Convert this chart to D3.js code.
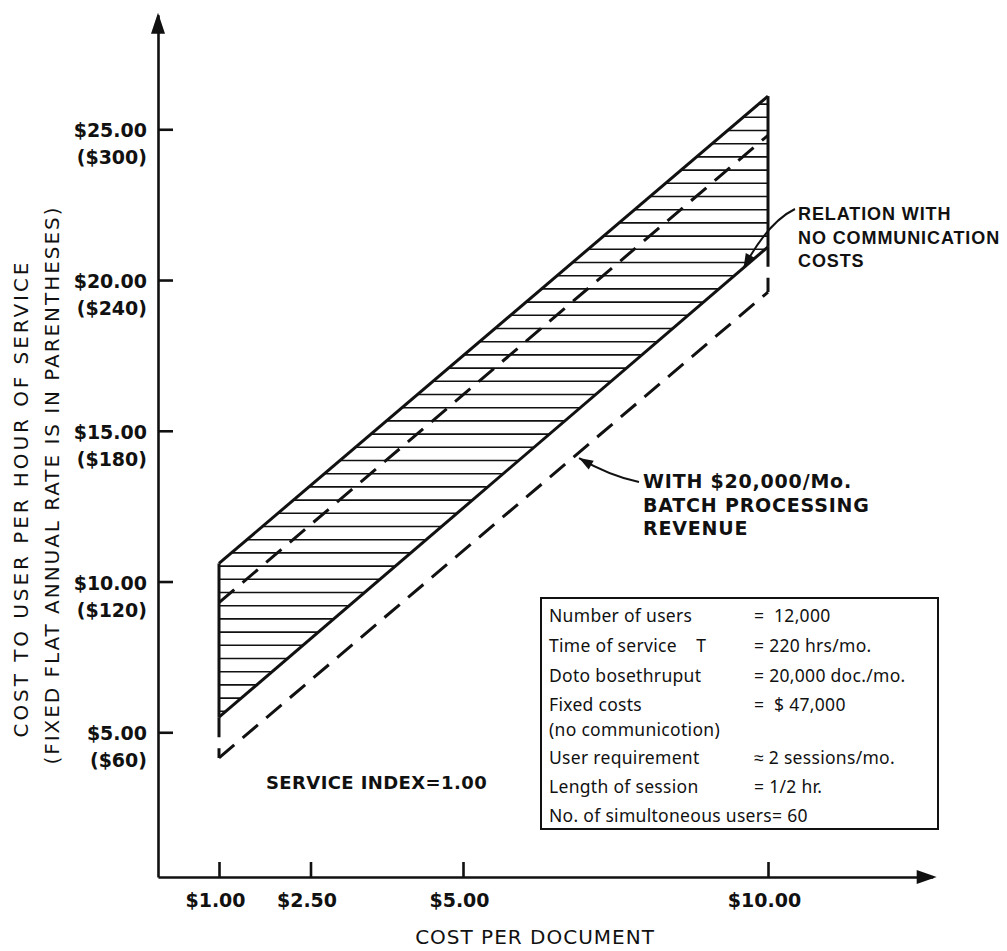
<!DOCTYPE html>
<html>
<head>
<meta charset="utf-8">
<script src="https://cdn.jsdelivr.net/npm/d3@7/dist/d3.min.js"></script>
<style>
  html, body { margin: 0; padding: 0; background: #fff; }
  svg { display: block; }
</style>
</head>
<body>
<svg id="chart" width="1007" height="951"></svg>
<script>
// ---------------- DATA ----------------
const xEnds = [1, 10];                     // cost per document at the two ends
const upperSolid = [10.6, 26.1];           // upper bound of shaded band
const middleDashed = [9.3, 24.8];          // dashed line inside band
const lowerSolid = [5.5, 21.1];            // relation with no communication costs
const lowerDashed = [4.15, 19.6];          // with $20,000/Mo batch processing revenue

const xTickValues = [1, 2.5, 5, 10];
const xTickLabels = ["$1.00", "$2.50", "$5.00", "$10.00"];
const yTickValues = [5, 10, 15, 20, 25];
const yTickLabels = ["$5.00", "$10.00", "$15.00", "$20.00", "$25.00"];
const yTickAnnual = ["($60)", "($120)", "($180)", "($240)", "($300)"];

const tableLabels = ["Number of users", "Time of service    T", "Doto bosethruput", "Fixed costs",
  "(no communicotion)", "User requirement", "Length of session", "No. of simultoneous users= 60"];
const tableValues = ["=  12,000", "= 220 hrs/mo.", "= 20,000 doc./mo.", "=  $ 47,000",
  "", "\u2248 2 sessions/mo.", "= 1/2 hr.", ""];

// ---------------- LAYOUT ----------------
const svg = d3.select("#chart");
const x = d3.scaleLinear().domain([0, 12.7]).range([158, 158 + 12.7 * 61]);
const y = d3.scaleLinear().domain([0.2, 28.8]).range([877, 14.7]);

const boldFont = "'DejaVu Sans', sans-serif";
const annFont = "'Liberation Sans', Arial, sans-serif";
const ink = "#111";

function at(arr, xv) {
  const t = (xv - xEnds[0]) / (xEnds[1] - xEnds[0]);
  return arr[0] + t * (arr[1] - arr[0]);
}
const pts = arr => xEnds.map((xv, i) => [xv, arr[i]]);
const line = d3.line().x(d => x(d[0])).y(d => y(d[1]));

// ---------- Hatching ----------
const bandPoly = [...pts(upperSolid), ...pts(lowerSolid).reverse()];
svg.append("clipPath").attr("id", "band")
  .append("path").attr("d", line(bandPoly) + "Z");

const hTop = y(upperSolid[1]), hBot = y(lowerSolid[0]);
svg.append("g").attr("clip-path", "url(#band)")
  .selectAll("line").data(d3.range(hTop + 8, hBot, 13.2))
  .join("line")
  .attr("x1", x(xEnds[0])).attr("x2", x(xEnds[1]))
  .attr("y1", d => d).attr("y2", d => d)
  .attr("stroke", ink).attr("stroke-width", 1.6);

// ---------- Lines ----------
const dash = "20,11";
const g = svg.append("g").attr("fill", "none").attr("stroke", ink).attr("stroke-linecap", "butt");

g.append("path").attr("d", line(pts(upperSolid))).attr("stroke-width", 3);
g.append("path").attr("d", line(pts(lowerSolid))).attr("stroke-width", 3);
g.append("path").attr("d", line(pts(middleDashed))).attr("stroke-width", 3).attr("stroke-dasharray", dash);
g.append("path").attr("d", line(pts(lowerDashed))).attr("stroke-width", 3).attr("stroke-dasharray", dash);

xEnds.forEach((xv, i) => {
  g.append("path").attr("d", line([[xv, upperSolid[i]], [xv, lowerSolid[i]]])).attr("stroke-width", 3);
  g.append("path").attr("d", line([[xv, lowerSolid[i]], [xv, lowerDashed[i]]]))
    .attr("stroke-width", 3).attr("stroke-dasharray", dash);
});

// ---------- Axes ----------
const yAxis = d3.axisRight(y).tickValues(yTickValues).tickSize(15).tickSizeOuter(0).tickFormat("");
const yg = svg.append("g").attr("transform", `translate(${x(0)},0)`).call(yAxis);
const xAxis = d3.axisBottom(x).tickValues(xTickValues).tickSize(-15).tickSizeOuter(0)
  .tickPadding(17).tickFormat((d, i) => xTickLabels[i]);
const xg = svg.append("g").attr("transform", `translate(0,${y(0.2)})`).call(xAxis);
[yg, xg].forEach(a => {
  a.selectAll("path.domain").attr("stroke", ink).attr("stroke-width", 2.6);
  a.selectAll(".tick line").attr("stroke", ink).attr("stroke-width", 2.6);
});
xg.selectAll(".tick text")
  .attr("font-family", boldFont).attr("font-weight", "bold").attr("font-size", 19)
  .attr("fill", ink).attr("dx", -4);

const yTop = y.range()[1];
svg.append("path").attr("fill", ink)
  .attr("d", `M${x(0)},${yTop - 2} L${x(0) - 7},${yTop + 19} L${x(0) + 7},${yTop + 19} Z`);
const xEnd = x.range()[1];
svg.append("path").attr("fill", ink)
  .attr("d", `M${xEnd + 4},${y(0.2)} L${xEnd - 16},${y(0.2) - 7} L${xEnd - 16},${y(0.2) + 7} Z`);

const yl = svg.append("g").attr("font-family", boldFont).attr("font-weight", "bold")
  .attr("font-size", 19).attr("fill", ink).attr("text-anchor", "end");
yTickValues.forEach((v, i) => {
  yl.append("text").attr("x", x(0) - 11).attr("y", y(v) + 8).text(yTickLabels[i]);
  yl.append("text").attr("x", x(0) - 11).attr("y", y(v) + 35).text(yTickAnnual[i]);
});

// axis titles
svg.append("text").attr("transform", "translate(28,500) rotate(-90)")
  .attr("text-anchor", "middle").attr("font-family", boldFont).attr("font-size", 20)
  .attr("textLength", 475).attr("lengthAdjust", "spacing").attr("fill", ink)
  .text("COST TO USER PER HOUR OF SERVICE");
svg.append("text").attr("transform", "translate(59,486) rotate(-90)")
  .attr("text-anchor", "middle").attr("font-family", boldFont).attr("font-size", 20)
  .attr("textLength", 557).attr("lengthAdjust", "spacing").attr("fill", ink)
  .text("(FIXED FLAT ANNUAL RATE IS IN PARENTHESES)");
svg.append("text").attr("x", 535).attr("y", 944).attr("text-anchor", "middle")
  .attr("font-family", boldFont).attr("font-size", 20).attr("letter-spacing", 1).attr("fill", ink)
  .text("COST PER DOCUMENT");

// ---------- Annotations ----------
function arrow(fromX, fromY, cx, cy, tipX, tipY) {
  svg.append("path").attr("fill", "none").attr("stroke", ink).attr("stroke-width", 2)
    .attr("d", `M${fromX},${fromY} Q${cx},${cy} ${tipX},${tipY}`);
  const ang = Math.atan2(tipY - cy, tipX - cx);
  const L = 14, W = 5;
  const bx = tipX - L * Math.cos(ang), by = tipY - L * Math.sin(ang);
  svg.append("path").attr("fill", ink).attr("d",
    `M${tipX},${tipY} L${bx + W * Math.sin(ang)},${by - W * Math.cos(ang)} L${bx - W * Math.sin(ang)},${by + W * Math.cos(ang)} Z`);
}

const relX = 9.6;
const relTip = [x(relX), y(at(lowerSolid, relX))];
arrow(795, 209, 768, 222, relTip[0], relTip[1]);
const relG = svg.append("g").attr("font-family", annFont).attr("font-weight", "bold").attr("fill", ink)
  .attr("font-size", 18).attr("letter-spacing", 0.9);
["RELATION WITH", "NO COMMUNICATION", "COSTS"].forEach((t, i) =>
  relG.append("text").attr("x", 798).attr("y", 220 + i * 23.5).text(t));

const batX = 6.87;
const batTip = [x(batX) + 2, y(at(lowerDashed, batX)) + 4];
arrow(639, 482, 610, 476, batTip[0], batTip[1]);
const batG = svg.append("g").attr("font-family", boldFont).attr("font-weight", "bold").attr("fill", ink)
  .attr("font-size", 19).attr("letter-spacing", 0.8);
["WITH $20,000/Mo.", "BATCH PROCESSING", "REVENUE"].forEach((t, i) =>
  batG.append("text").attr("x", 643).attr("y", 488 + i * 23.5).text(t));

svg.append("text").attr("x", 266).attr("y", 789).attr("font-family", boldFont)
  .attr("font-weight", "bold").attr("font-size", 18).attr("fill", ink)
  .attr("letter-spacing", 0.4).text("SERVICE INDEX=1.00");

// ---------- Parameter box ----------
const box = svg.append("g");
const rowY = [622, 652, 682, 711, 736, 764, 793, 822];
box.append("rect").attr("x", 541).attr("y", 598).attr("width", 397).attr("height", 231)
  .attr("fill", "#fff").attr("stroke", ink).attr("stroke-width", 2);
const tf = box.append("g").attr("font-family", "'Noto Sans', sans-serif").attr("font-size", 17.5)
  .attr("letter-spacing", 0.3).attr("fill", ink);
tableLabels.forEach((t, i) => tf.append("text").attr("x", 549).attr("y", rowY[i]).attr("xml:space", "preserve").text(t));
tableValues.forEach((t, i) => { if (t) tf.append("text").attr("x", 754).attr("y", rowY[i]).attr("xml:space", "preserve").text(t); });
</script>
</body>
</html>
